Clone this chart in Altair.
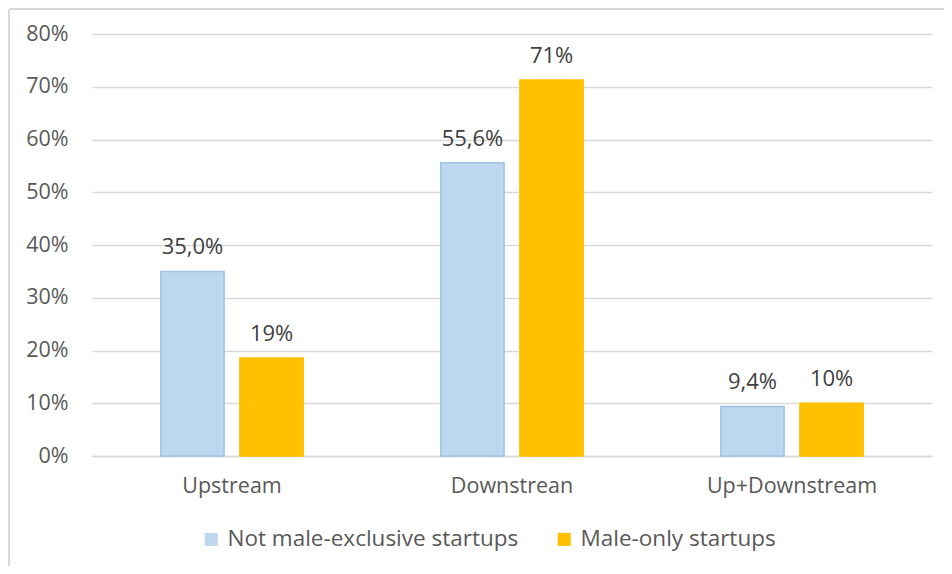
import altair as alt
import pandas as pd

categories = ["Upstream", "Downstrean", "Up+Downstream"]
series = ["Not male-exclusive startups", "Male-only startups"]
not_male = [0.350, 0.556, 0.094]
male_only = [0.186, 0.713, 0.100]
labels_not = ["35,0%", "55,6%", "9,4%"]
labels_male = ["19%", "71%", "10%"]
y_ticks = [0, 0.1, 0.2, 0.3, 0.4, 0.5, 0.6, 0.7, 0.8]

rows = []
for i, c in enumerate(categories):
    rows.append({"cat": c, "series": series[0], "value": not_male[i], "label": labels_not[i]})
    rows.append({"cat": c, "series": series[1], "value": male_only[i], "label": labels_male[i]})
df = pd.DataFrame(rows)

FONT = "Open Sans"
FS = 21.5
x_enc = alt.X("cat:N", sort=categories, title=None,
              scale=alt.Scale(paddingInner=0, paddingOuter=0),
              axis=alt.Axis(labelAngle=0, labelFontSize=FS, labelColor="#595959",
                            labelFont=FONT, ticks=False, domainColor="#D9D9D9",
                            domainWidth=1.5, labelPadding=19, grid=False))
xo_enc = alt.XOffset("series:N", sort=series,
                     scale=alt.Scale(paddingInner=0.2, paddingOuter=0.87))
y_enc = alt.Y("value:Q", title=None,
              scale=alt.Scale(domain=[0, 0.8], nice=False),
              axis=alt.Axis(values=y_ticks, format=".0%", labelFontSize=FS,
                            labelColor="#595959", labelFont=FONT, ticks=False,
                            domain=False, gridColor="#D9D9D9", gridWidth=1.5,
                            labelPadding=24))

base = alt.Chart(df)

bars = base.mark_bar(strokeWidth=1.5).encode(
    x=x_enc, xOffset=xo_enc, y=y_enc,
    color=alt.Color("series:N", sort=series, title=None,
                    scale=alt.Scale(domain=series, range=["#BDD7EE", "#FFC000"]),
                    legend=alt.Legend(orient="none", direction="horizontal",
                                      legendX=108, legendY=494,
                                      labelFontSize=22.5, labelFont=FONT,
                                      labelColor="#595959", symbolType="square",
                                      symbolSize=170, symbolStrokeWidth=0,
                                      columnPadding=34, labelOffset=5,
                                      labelLimit=0)),
    stroke=alt.Stroke("series:N", sort=series, legend=None,
                      scale=alt.Scale(domain=series, range=["#9DC3E6", "#FFC000"])),
)

text = base.mark_text(baseline="alphabetic", dy=-17, fontSize=22, font=FONT,
                      color="#404040").encode(
    x=x_enc, xOffset=xo_enc, y=y_enc, text="label:N")

border_data = alt.Data(values=[{"k": 1}])
left_border = alt.Chart(border_data).mark_rule(color="#D9D9D9", strokeWidth=2).encode(
    x=alt.value(-83), y=alt.value(-25), y2=alt.value(560))
top_border = alt.Chart(border_data).mark_rule(color="#D9D9D9", strokeWidth=2).encode(
    x=alt.value(-83), x2=alt.value(900), y=alt.value(-25))

chart = alt.layer(bars, text, left_border, top_border).properties(
    width=840, height=422,
    autosize=alt.AutoSizeParams(type="none"),
    padding={"left": 84, "top": 26, "right": 12, "bottom": 110},
    background="white",
).configure_view(stroke=None)

chart.save("out.html", embed_options={"renderer": "svg", "actions": False})
